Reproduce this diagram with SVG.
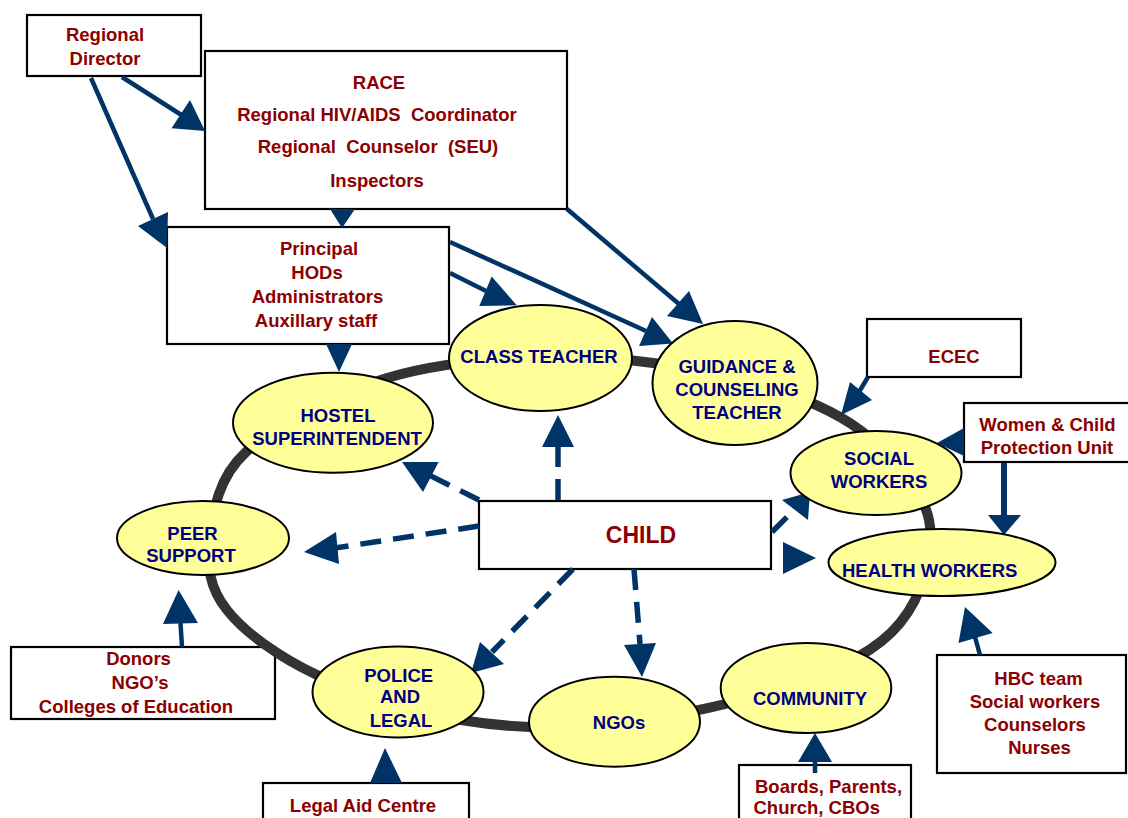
<svg xmlns="http://www.w3.org/2000/svg" width="1128" height="818" viewBox="0 0 1128 818">
<style>
.box{fill:#fff;stroke:#000;stroke-width:2.2}
.ell{fill:#FFFF99;stroke:#000;stroke-width:2}
.rt{font-family:"Liberation Sans",Arial,sans-serif;font-weight:bold;font-size:18.5px;fill:#8B0000;text-anchor:middle}
.bt{font-family:"Liberation Sans",Arial,sans-serif;font-weight:bold;font-size:18.5px;fill:#000080;text-anchor:middle}
.ln{fill:none;stroke:#003366;stroke-width:4.5}
.dl{fill:none;stroke:#003366;stroke-width:5.5;stroke-dasharray:21 12}
.hd{fill:#003366}
.ring{fill:none;stroke:#333333;stroke-width:10}
</style>
<rect width="1128" height="818" fill="#fff"/>

<g id="n-regional-director"><rect class="box" x="27" y="15" width="174" height="61"/>
<text class="rt" x="105" y="41">Regional</text><text class="rt" x="105" y="65">Director</text></g>

<g id="n-race"><rect class="box" x="205" y="51" width="362" height="158"/>
<text class="rt" x="379" y="89">RACE</text>
<text class="rt" x="377" y="121" xml:space="preserve">Regional HIV/AIDS  Coordinator</text>
<text class="rt" x="378" y="153" xml:space="preserve">Regional  Counselor  (SEU)</text>
<text class="rt" x="377" y="187">Inspectors</text></g>

<g id="n-principal"><rect class="box" x="167" y="227" width="282" height="117"/>
<text class="rt" x="319" y="255">Principal</text>
<text class="rt" x="317" y="279">HODs</text>
<text class="rt" x="317.5" y="303">Administrators</text>
<text class="rt" x="316" y="327">Auxillary staff</text></g>

<g id="n-ecec"><rect class="box" x="867" y="319" width="154" height="58"/>
<text class="rt" x="954" y="363">ECEC</text></g>

<g id="n-wcpu"><rect class="box" x="964" y="403" width="200" height="59"/>
<text class="rt" x="1047.5" y="431">Women &amp; Child</text>
<text class="rt" x="1047" y="454">Protection Unit</text></g>

<g id="n-child"><rect class="box" x="479" y="501" width="292" height="68"/>
<text class="rt" x="641" y="543" style="font-size:23px">CHILD</text></g>

<g id="n-donors"><rect class="box" x="11" y="647" width="264" height="72"/>
<text class="rt" x="138.5" y="665">Donors</text>
<text class="rt" x="140" y="689">NGO’s</text>
<text class="rt" x="136" y="713">Colleges of Education</text></g>

<g id="n-legal-aid"><rect class="box" x="263" y="783" width="206" height="60"/>
<text class="rt" x="363" y="812">Legal Aid Centre</text></g>

<g id="n-boards"><rect class="box" x="739" y="765" width="172" height="60"/>
<text class="rt" x="755" y="793" style="text-anchor:start">Boards, Parents,</text>
<text class="rt" x="753.5" y="814" style="text-anchor:start">Church, CBOs</text></g>

<g id="n-hbc"><rect class="box" x="937" y="655" width="189" height="118"/>
<text class="rt" x="1038.5" y="685">HBC team</text>
<text class="rt" x="1035" y="708">Social workers</text>
<text class="rt" x="1035" y="731">Counselors</text>
<text class="rt" x="1039.5" y="754">Nurses</text></g>

<g id="ring"><path class="ring" d="M565,357 C623,357 685.8,365.8 735,378 C784.2,390.2 827.7,406.3 860,430 C892.3,453.7 922.3,487.8 929,520 C935.7,552.2 922.3,595.7 900,623 C877.7,650.3 842.7,667.2 795,684 C747.3,700.8 669.7,718 614,724 C558.3,730 510.5,728.2 461,720 C411.5,711.8 356,693.3 317,675 C278,656.7 244.8,632.5 227,610 C209.2,587.5 206.8,566.3 210,540 C213.2,513.7 216.5,479 246,452 C275.5,425 333.8,393.8 387,378 C440.2,362.2 507,357 565,357 Z"/></g>

<g id="connectors">
<path class="ln" d="M122,77 L183,116"/><polygon class="hd" points="205,131 190,100 171.5,128.3"/>
<path class="ln" d="M91,78 L153,219"/><polygon class="hd" points="167,248 138,226 168,212"/>
<polygon class="hd" points="330,209 355,209 342,228"/>
<polygon class="hd" points="326,344 352,344 339,372"/>
<path class="ln" d="M450,273 L486,291"/><polygon class="hd" points="516.7,305.3 491.7,276.5 479.3,306"/>
<path class="ln" d="M450,242 L646,331"/><polygon class="hd" points="673,343.5 652,317 639,346"/>
<path class="ln" d="M567,209 L679,304"/><polygon class="hd" points="703,324 689,291 667,316"/>
<path class="ln" d="M868,377 L859,392"/><polygon class="hd" points="841,415 872,400 850,382"/>
<polygon class="hd" points="964,428 964,456 937,443"/>
<path class="ln" d="M1004,463 L1004,516" style="stroke-width:6"/><polygon class="hd" points="988,515 1021,515 1004,535"/>
<path class="ln" d="M980,655 L975,637"/><polygon class="hd" points="965,607 958.5,643 992.6,633"/>
<path class="ln" d="M815,773 L815,761"/><polygon class="hd" points="798,762 832,762 815,733"/>
<path class="ln" d="M182,647 L180.5,623"/><polygon class="hd" points="178.6,590 163,624 198,623"/>
<polygon class="hd" points="370,783 402,783 385,748"/>
<path class="dl" d="M558,500 L558,447"/><polygon class="hd" points="542,447 574,447 558,415"/>
<path class="dl" d="M479,500 L429,475"/><polygon class="hd" points="402,462 438.6,462 423,492"/>
<path class="dl" d="M479,526 L335,548"/><polygon class="hd" points="304,552 336,532 339,564"/>
<path class="dl" d="M573,569 L492,652"/><polygon class="hd" points="471,673 480,642 504,664"/>
<path class="dl" d="M634,569 L640,644"/><polygon class="hd" points="642,677 624,645 656,643"/>
<path class="dl" d="M772,532 L794,510"/><polygon class="hd" points="810,492 782,500 808,520"/>
<polygon class="hd" points="783,542 783,574 816,558"/>
</g>

<g id="n-class-teacher"><ellipse class="ell" cx="540.5" cy="358" rx="91.5" ry="53"/>
<text class="bt" x="539" y="363">CLASS TEACHER</text></g>

<g id="n-guidance"><ellipse class="ell" cx="735" cy="383" rx="82.5" ry="62"/>
<text class="bt" x="737" y="373">GUIDANCE &amp;</text>
<text class="bt" x="737" y="395.5">COUNSELING</text>
<text class="bt" x="737" y="419">TEACHER</text></g>

<g id="n-social"><ellipse class="ell" cx="876" cy="473" rx="85.5" ry="42"/>
<text class="bt" x="879" y="465">SOCIAL</text>
<text class="bt" x="879" y="487.5">WORKERS</text></g>

<g id="n-health"><ellipse class="ell" cx="942" cy="562.5" rx="113.5" ry="33.5"/>
<text class="bt" x="842" y="577" style="text-anchor:start">HEALTH WORKERS</text></g>

<g id="n-hostel"><ellipse class="ell" cx="333" cy="422.7" rx="100" ry="50"/>
<text class="bt" x="338" y="421.7">HOSTEL</text>
<text class="bt" x="337" y="445">SUPERINTENDENT</text></g>

<g id="n-peer"><ellipse class="ell" cx="203" cy="538" rx="86" ry="37"/>
<text class="bt" x="192.5" y="540">PEER</text>
<text class="bt" x="191" y="561.7">SUPPORT</text></g>

<g id="n-police"><ellipse class="ell" cx="398" cy="692" rx="85.5" ry="45.5"/>
<text class="bt" x="398.7" y="681.7">POLICE</text>
<text class="bt" x="400" y="703.3">AND</text>
<text class="bt" x="401" y="726.7">LEGAL</text></g>

<g id="n-ngos"><ellipse class="ell" cx="614.5" cy="721.7" rx="85.5" ry="45"/>
<text class="bt" x="619" y="729">NGOs</text></g>

<g id="n-community"><ellipse class="ell" cx="806" cy="688" rx="85.3" ry="45"/>
<text class="bt" x="810" y="705">COMMUNITY</text></g>
</svg>
